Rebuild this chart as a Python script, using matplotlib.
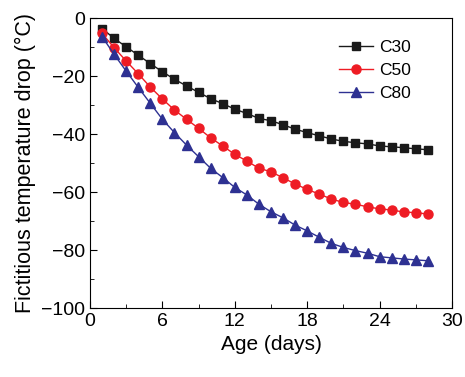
import matplotlib
matplotlib.use('Agg')
import matplotlib.pyplot as plt
from matplotlib.ticker import MultipleLocator

plt.rcParams['font.family'] = ['Liberation Sans', 'DejaVu Sans']

days = list(range(1, 29))
c30 = [-3.6, -7.0, -9.9, -12.8, -15.7, -18.5, -21.1, -23.4, -25.6, -27.8,
       -29.5, -31.4, -32.9, -34.6, -35.4, -36.8, -38.3, -39.5, -40.6, -41.7,
       -42.5, -43.0, -43.4, -44.1, -44.4, -44.7, -45.1, -45.4]
c50 = [-5.3, -10.2, -14.8, -19.2, -23.8, -27.9, -31.7, -34.9, -38.0, -41.3,
       -44.1, -47.0, -49.3, -51.8, -53.0, -55.1, -57.2, -59.1, -60.7, -62.4,
       -63.6, -64.2, -65.1, -65.8, -66.2, -66.9, -67.1, -67.6]
c80 = [-6.4, -12.5, -18.3, -23.9, -29.4, -34.9, -39.5, -43.8, -47.8, -51.8,
       -55.0, -58.4, -61.0, -64.2, -66.8, -68.9, -71.4, -73.4, -75.6, -77.7,
       -79.1, -80.2, -81.1, -82.3, -82.7, -83.1, -83.4, -83.7]

fig = plt.figure(figsize=(4.65, 3.77), dpi=100)
ax = fig.add_axes([0.1935, 0.183, 0.7785, 0.769])

ax.plot(days, c30, '-s', color='#1a1a1a', lw=1, ms=5.5, label='C30')
ax.plot(days, c50, '-o', color='#ee1c24', lw=1, ms=6.5, label='C50')
ax.plot(days, c80, '-^', color='#2e3192', lw=1, ms=6.5, label='C80')

ax.set_xlim(0, 30)
ax.set_ylim(-100, 0)
ax.xaxis.set_major_locator(MultipleLocator(6))
ax.xaxis.set_minor_locator(MultipleLocator(3))
ax.yaxis.set_major_locator(MultipleLocator(20))
ax.yaxis.set_minor_locator(MultipleLocator(10))
ax.tick_params(which='both', direction='in', labelsize=14, top=False, right=False)
ax.tick_params(which='major', length=5)
ax.tick_params(which='minor', length=3)

ax.set_xlabel('Age (days)', fontsize=15)
ax.set_ylabel('Fictitious temperature drop (°C)', fontsize=15.5)

ax.legend(loc='upper left', frameon=False, fontsize=12.5, handlelength=2.0,
          handletextpad=0.35, bbox_to_anchor=(0.668, 0.95), borderaxespad=0,
          labelspacing=0.45)

fig.savefig('out.png', dpi=100)
